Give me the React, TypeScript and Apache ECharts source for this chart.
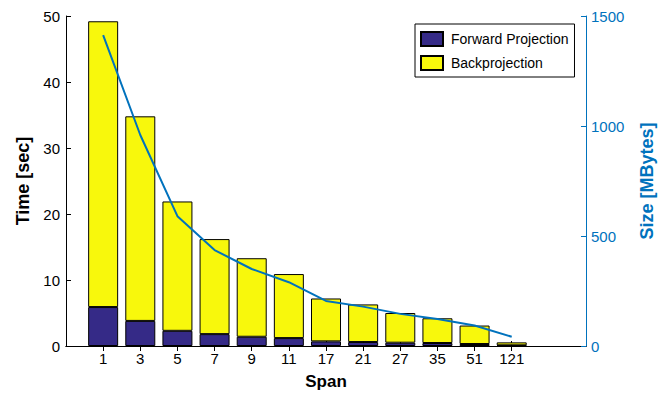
import React, { useEffect, useRef } from "react";
import * as echarts from "echarts";

const spans = ["1", "3", "5", "7", "9", "11", "17", "21", "27", "35", "51", "121"];
const forwardProjection = [5.9, 3.8, 2.3, 1.8, 1.4, 1.2, 0.7, 0.6, 0.5, 0.45, 0.3, 0.1];
const totalTime = [49.2, 34.8, 21.9, 16.2, 13.3, 10.9, 7.2, 6.3, 5.0, 4.2, 3.1, 0.55];
const sizeMB = [1413, 959, 590, 436, 350, 290, 205, 179, 146, 123, 93, 42];
const leftTicks = { min: 0, max: 50, interval: 10 };
const rightTicks = { min: 0, max: 1500, interval: 500 };

const FONT = "Liberation Sans, Arial, Helvetica, sans-serif";
const BLUE = "#0072BD";

export default function App() {
  const ref = useRef<HTMLDivElement>(null);
  useEffect(() => {
    if (!ref.current) return;
    const chart = echarts.init(ref.current, null, { renderer: "svg" });
    // category slots: index 0 empty, 1..12 spans, 13..14 empty (xlim [0,14])
    const cats = ["", ...spans, "", ""];
    const pad = (arr: number[]) => [null, ...arr, null, null];
    const back = totalTime.map((t, i) => +(t - forwardProjection[i]).toFixed(3));
    const tickShow = (idx: number) => idx >= 1 && idx <= spans.length;
    const option: any = {
      animation: false,
      textStyle: { fontFamily: FONT },
      grid: { left: 66, right: 83, top: 16, bottom: 49, containLabel: false },
      legend: {
        orient: "vertical",
        left: 415,
        top: 24,
        backgroundColor: "#fff",
        borderColor: "#000",
        borderWidth: 1,
        borderRadius: 0,
        padding: [7, 6, 6, 5],
        itemWidth: 22,
        itemHeight: 14,
        itemGap: 8,
        icon: "rect",
        textStyle: {
          fontFamily: FONT,
          fontSize: 14,
          lineHeight: 14,
          color: "#000",
          padding: [0, 0, 0, 3],
        },
        data: ["Forward Projection", "Backprojection"],
      },
      xAxis: [
        {
          type: "category",
          data: cats,
          boundaryGap: false,
          name: "Span",
          nameLocation: "middle",
          nameGap: 27,
          nameTextStyle: { fontFamily: FONT, fontSize: 17, fontWeight: "bold", color: "#000" },
          axisLine: { lineStyle: { color: "#000", width: 1 } },
          axisTick: { inside: true, length: 5, interval: tickShow, lineStyle: { color: "#000" } },
          axisLabel: { interval: 0, fontFamily: FONT, fontSize: 15, color: "#000", margin: 5 },
          splitLine: { show: false },
        },
        {
          type: "category",
          data: cats,
          boundaryGap: false,
          position: "top",
          axisLine: { lineStyle: { color: "#000", width: 1 } },
          axisTick: { inside: true, length: 5, interval: tickShow, lineStyle: { color: "#000" } },
          axisLabel: { show: false },
          splitLine: { show: false },
        },
      ],
      yAxis: [
        {
          type: "value",
          min: leftTicks.min,
          max: leftTicks.max,
          interval: leftTicks.interval,
          position: "left",
          name: "Time [sec]",
          nameLocation: "middle",
          nameGap: 32,
          nameRotate: 90,
          nameTextStyle: { fontFamily: FONT, fontSize: 18, fontWeight: "bold", color: "#000" },
          axisLine: { show: true, lineStyle: { color: "#000", width: 1 } },
          axisTick: { show: true, inside: true, length: 5, lineStyle: { color: "#000" } },
          axisLabel: { fontFamily: FONT, fontSize: 15, color: "#000", margin: 6 },
          splitLine: { show: false },
        },
        {
          type: "value",
          min: rightTicks.min,
          max: rightTicks.max,
          interval: rightTicks.interval,
          position: "right",
          name: "Size [MBytes]",
          nameLocation: "middle",
          nameGap: 52,
          nameRotate: 90,
          nameTextStyle: { fontFamily: FONT, fontSize: 18, fontWeight: "bold", color: BLUE },
          axisLine: { show: true, lineStyle: { color: BLUE, width: 1 } },
          axisTick: { show: true, inside: true, length: 5, lineStyle: { color: BLUE } },
          axisLabel: {
            fontFamily: FONT,
            fontSize: 15,
            color: BLUE,
            margin: 5,
            formatter: (v: number) => String(v),
          },
          splitLine: { show: false },
        },
      ],
      series: [
        {
          name: "Forward Projection",
          type: "bar",
          stack: "t",
          barWidth: 30,
          data: pad(forwardProjection),
          itemStyle: { color: "#352a87", borderColor: "#000", borderWidth: 1 },
        },
        {
          name: "Backprojection",
          type: "bar",
          stack: "t",
          barWidth: 30,
          data: pad(back),
          itemStyle: { color: "#f8f80c", borderColor: "#000", borderWidth: 1 },
        },
        {
          name: "Size",
          type: "line",
          yAxisIndex: 1,
          data: pad(sizeMB),
          symbol: "none",
          lineStyle: { color: BLUE, width: 2 },
          connectNulls: false,
          z: 5,
        },
      ],
    };
    chart.setOption(option);
    return () => chart.dispose();
  }, []);
  return (
    <div
      ref={ref}
      style={{ position: "fixed", left: 0, top: 0, width: 669, height: 395, background: "#fff" }}
    />
  );
}
